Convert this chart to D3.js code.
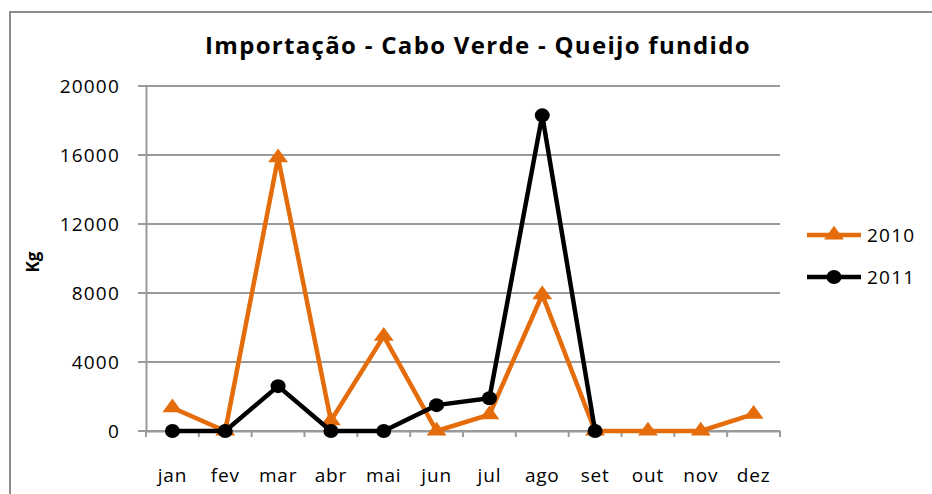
<!DOCTYPE html>
<html><head><meta charset="utf-8">
<script src="https://cdn.jsdelivr.net/npm/d3@7"></script>
<style>body{margin:0;background:#fff}svg{display:block}</style>
</head><body>
<svg id="c" width="932" height="494"></svg>
<script>
const months = ["jan","fev","mar","abr","mai","jun","jul","ago","set","out","nov","dez"];
const values2010 = [1350, 0, 15850, 600, 5500, 0, 950, 7900, 0, 0, 0, 980];
const values2011 = [0, 0, 2600, 0, 0, 1500, 1900, 18300, 0, null, null, null];
const yTicks = [0, 4000, 8000, 12000, 16000, 20000];
const title = "Importação - Cabo Verde - Queijo fundido";
const yLabel = "Kg";
const seriesNames = ["2010", "2011"];

const svg = d3.select("#c");
const font = "'Open Sans', sans-serif";
const orange = "#E46C0A", black = "#000", grid = "#9a9a9a";

// outer border
svg.append("path").attr("d","M10,494 L10,12 L932,12").attr("fill","none").attr("stroke","#8c8c8c").attr("stroke-width",2);

const x = d3.scaleBand().domain(months).range([146, 780]);
const y = d3.scaleLinear().domain([0, 20000]).range([431, 86]);

// gridlines
svg.append("g").selectAll("line").data(yTicks).join("line")
  .attr("x1", 138).attr("x2", 780).attr("y1", d => y(d)).attr("y2", d => y(d))
  .attr("stroke", grid).attr("stroke-width", 2);

// y axis
const yAxis = svg.append("g").attr("transform","translate(146,0)")
  .call(d3.axisLeft(y).tickValues(yTicks).tickSize(0).tickPadding(26).tickFormat(d3.format("d")));
yAxis.select(".domain").attr("stroke", grid).attr("stroke-width", 2);
yAxis.selectAll("text").attr("font-family", font).attr("font-size", 19).attr("fill","#000").attr("letter-spacing", 1.2);

// x axis
const xAxis = svg.append("g").attr("transform","translate(0,431)")
  .call(d3.axisBottom(x).tickSize(0).tickPadding(38));
xAxis.select(".domain").attr("stroke", grid).attr("stroke-width", 2);
xAxis.selectAll("text").attr("font-family", font).attr("font-size", 19).attr("fill","#000").attr("letter-spacing", 0.8);
const bounds = months.map(m => x(m)).concat([x.range()[1]]);
svg.append("g").selectAll("line").data(bounds).join("line")
  .attr("x1", d => d).attr("x2", d => d).attr("y1", 431).attr("y2", 437)
  .attr("stroke", grid).attr("stroke-width", 2);

const cx = m => x(m) + x.bandwidth() / 2;
const line = d3.line().defined(d => d.v !== null).x(d => cx(d.m)).y(d => y(d.v));
const tri = d3.symbol().type(d3.symbolTriangle).size(110);

function drawSeries(vals, color, marker) {
  const data = months.map((m, i) => ({m, v: vals[i]}));
  svg.append("path").datum(data).attr("d", line).attr("fill","none")
    .attr("stroke", color).attr("stroke-width", 4.5).attr("stroke-linejoin","miter");
  const pts = data.filter(d => d.v !== null);
  if (marker === "tri") {
    svg.append("g").selectAll("path").data(pts).join("path")
      .attr("d", tri).attr("transform", d => `translate(${cx(d.m)},${y(d.v)}) scale(1.25,1)`).attr("fill", color);
  } else {
    svg.append("g").selectAll("ellipse").data(pts).join("ellipse")
      .attr("cx", d => cx(d.m)).attr("cy", d => y(d.v)).attr("rx", 7.5).attr("ry", 7).attr("fill", color);
  }
}
drawSeries(values2010, orange, "tri");
drawSeries(values2011, black, "circ");

// title
svg.append("text").attr("x", 478).attr("y", 54).attr("text-anchor","middle")
  .attr("font-family", font).attr("font-weight","bold").attr("font-size", 24).attr("letter-spacing", 1.3)
  .attr("fill","#000").text(title);

// y label
svg.append("text").attr("transform","translate(39,262) rotate(-90)").attr("text-anchor","middle")
  .attr("font-family", font).attr("font-weight","bold").attr("font-size", 17).attr("fill","#000").text(yLabel);

// legend
const legY = [235, 277];
seriesNames.forEach((n, i) => {
  const g = svg.append("g");
  const col = i === 0 ? orange : black;
  g.append("line").attr("x1", 807).attr("x2", 861).attr("y1", legY[i]).attr("y2", legY[i]).attr("stroke", col).attr("stroke-width", 4.5);
  if (i === 0) g.append("path").attr("d", tri).attr("transform", `translate(834,${legY[i]}) scale(1.25,1)`).attr("fill", col);
  else g.append("ellipse").attr("cx", 834).attr("cy", legY[i]).attr("rx", 7.5).attr("ry", 7).attr("fill", col);
  g.append("text").attr("x", 867).attr("y", legY[i]).attr("dy","0.35em").attr("font-family", font)
    .attr("font-size", 19).attr("letter-spacing", 1.2).attr("fill","#000").text(n);
});
</script>
</body></html>
